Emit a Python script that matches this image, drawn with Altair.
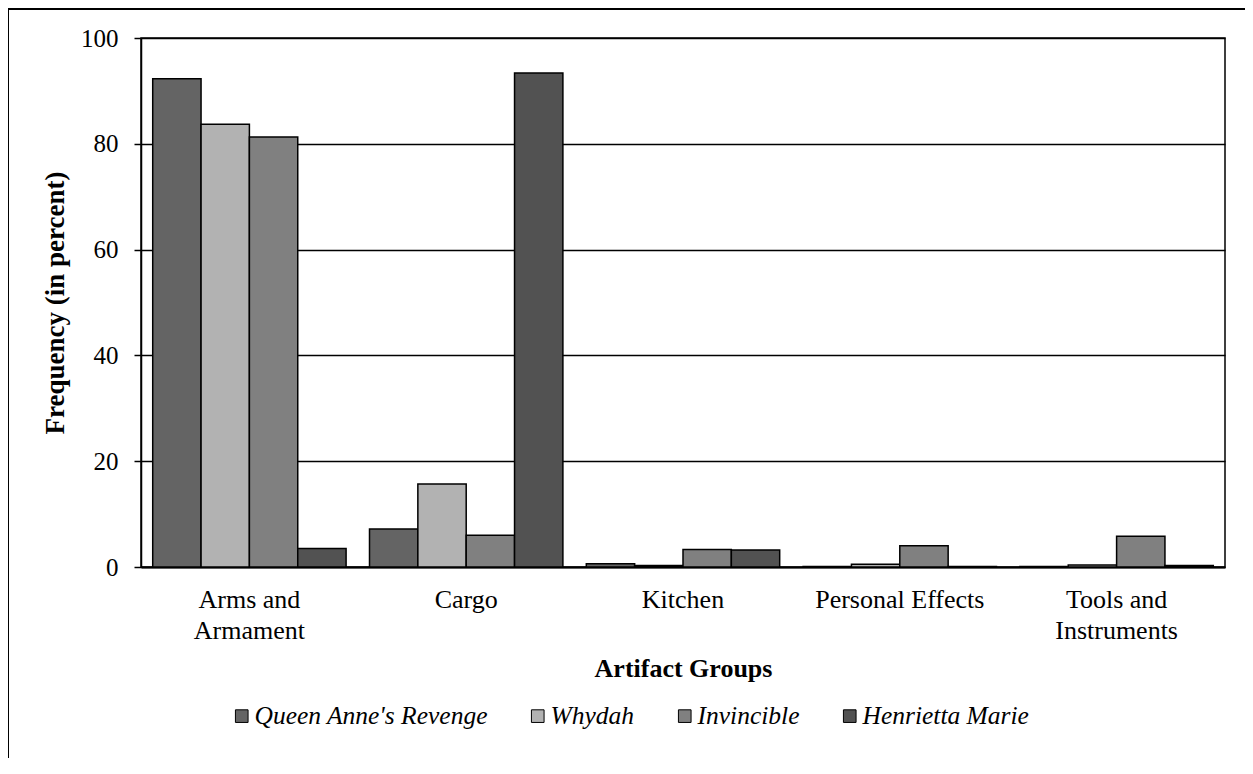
import altair as alt
import pandas as pd

categories = ["Arms and Armament", "Cargo", "Kitchen", "Personal Effects", "Tools and Instruments"]
ships = ["Queen Anne's Revenge", "Whydah", "Invincible", "Henrietta Marie"]
qar = [92.3, 7.2, 0.6, 0.1, 0.1]
whydah = [83.7, 15.7, 0.3, 0.5, 0.4]
invincible = [81.3, 6.0, 3.3, 4.0, 5.8]
henrietta = [3.5, 93.4, 3.2, 0.1, 0.3]
colors = ["#646464", "#b2b2b2", "#808080", "#525252"]
y_ticks = [0, 20, 40, 60, 80, 100]

rows = []
for ship, vals in zip(ships, [qar, whydah, invincible, henrietta]):
    for c, v in zip(categories, vals):
        rows.append({"group": c, "ship": ship, "value": v})
df = pd.DataFrame(rows)

FONT = "Liberation Serif"
W, H = 1084, 529

bars = alt.Chart(df).mark_bar(stroke="black", strokeWidth=1.5).encode(
    x=alt.X("group:N", sort=categories,
            scale=alt.Scale(paddingInner=0.108, paddingOuter=0.054),
            axis=alt.Axis(title="Artifact Groups", labelAngle=0, ticks=False, tickSize=0,
                          labelPadding=19, labelFontSize=26, labelLineHeight=31, labelLimit=400,
                          labelFont=FONT, titleFont=FONT,
                          labelExpr="datum.label == 'Arms and Armament' ? ['Arms and', 'Armament'] : datum.label == 'Tools and Instruments' ? ['Tools and', 'Instruments'] : datum.label",
                          titleFontSize=26, titleFontWeight="bold", titlePadding=12,
                          domainColor="black", domainWidth=2)),
    xOffset=alt.XOffset("ship:N", sort=ships),
    y=alt.Y("value:Q", scale=alt.Scale(domain=[0, 100], nice=False),
            axis=alt.Axis(title="Frequency (in percent)", values=y_ticks, grid=True,
                          labelFont=FONT, titleFont=FONT,
                          gridColor="black", gridWidth=1.5, domainColor="black", domainWidth=1.5,
                          tickColor="black", tickSize=7, tickWidth=1.5, labelPadding=16,
                          labelFontSize=25, titleFontSize=27, titleFontWeight="bold",
                          titlePadding=11)),
    color=alt.Color("ship:N", sort=ships,
                    scale=alt.Scale(domain=ships, range=colors),
                    legend=alt.Legend(title=None, orient="none", legendX=85, legendY=665,
                                      direction="horizontal", symbolType="square",
                                      symbolSize=160, symbolStrokeColor="black",
                                      symbolStrokeWidth=1, labelFontSize=25.5,
                                      labelFontStyle="italic", labelFont=FONT, labelColor="black",
                                      labelLimit=500, labelOffset=0, symbolOffset=3,
                                      columnPadding=34)),
)

frame = alt.Chart(pd.DataFrame({"a": [0]})).mark_rect(
    fill="transparent", stroke="black", strokeWidth=2
).encode(x=alt.value(-133), x2=alt.value(1500), y=alt.value(-29), y2=alt.value(1200))

chart = alt.layer(frame, bars).properties(
    width=W, height=H,
    background="white",
    autosize=alt.AutoSizeParams(type="none"),
    padding={"left": 133, "top": 30, "right": 20, "bottom": 191},
).configure_view(stroke="black", strokeWidth=1.5).configure_axis(
    labelColor="black", titleColor="black"
)

chart.save("out.html", embed_options={"renderer": "svg", "actions": False})
